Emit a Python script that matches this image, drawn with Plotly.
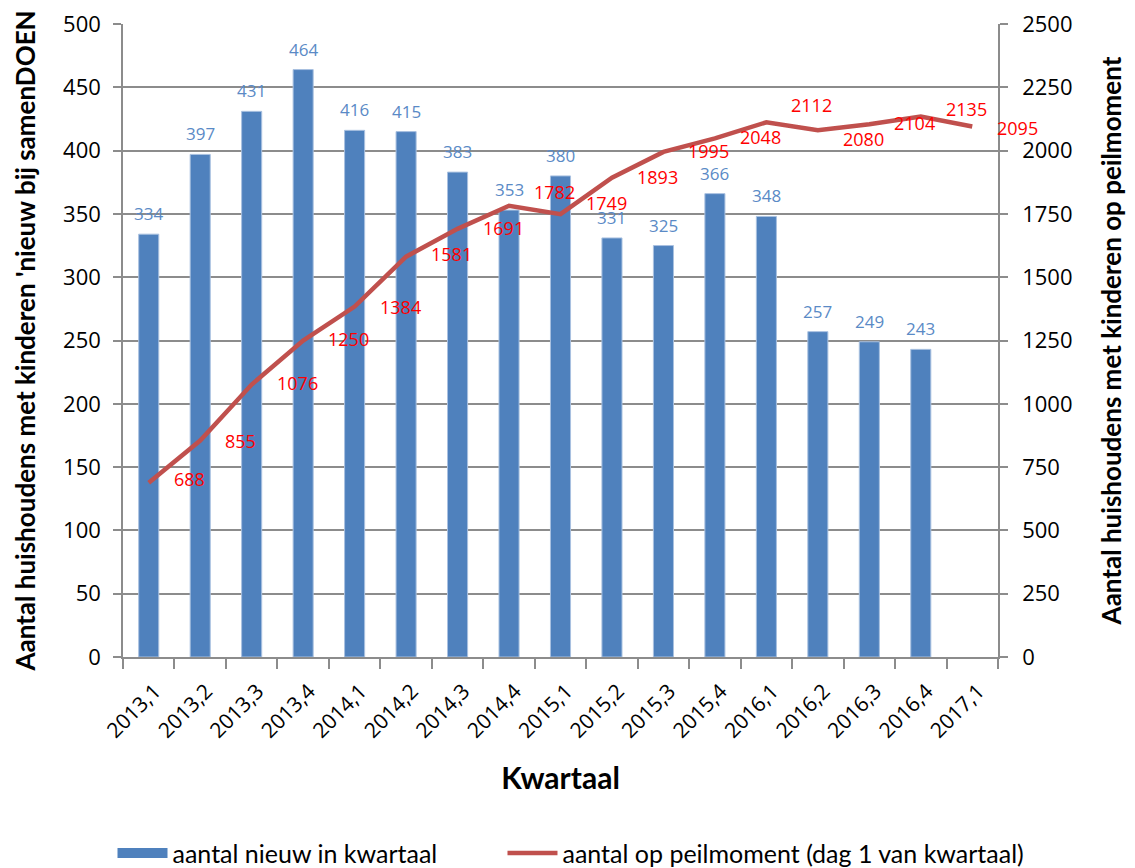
import plotly.graph_objects as go

categories = ["2013,1", "2013,2", "2013,3", "2013,4", "2014,1", "2014,2", "2014,3", "2014,4",
              "2015,1", "2015,2", "2015,3", "2015,4", "2016,1", "2016,2", "2016,3", "2016,4", "2017,1"]
nieuw = [334, 397, 431, 464, 416, 415, 383, 353, 380, 331, 325, 366, 348, 257, 249, 243]
peilmoment = [688, 855, 1076, 1250, 1384, 1581, 1691, 1782, 1749, 1893, 1995, 2048,
              2112, 2080, 2104, 2135, 2095]

left_ticks = list(range(0, 501, 50))
right_ticks = list(range(0, 2501, 250))

# label placement tweaks (pixels, positive = up) for the red line labels
line_label_dy = [5, 1, 3, 3, 1, 4, 2, 15, 12, 2, 2, 2, 18, -8, 2, 8, 0]

BLUE = "#4F81BD"
RED_LINE = "#C0504D"
GRID = "#8C8C8C"
TICKFONT = dict(family="Open Sans", size=22, color="black")

fig = go.Figure()
fig.add_trace(go.Bar(
    x=categories[:len(nieuw)], y=nieuw, name="aantal nieuw in kwartaal",
    marker=dict(color=BLUE, line=dict(color="#A9C1E0", width=1)),
    showlegend=False,
))
# legend proxy drawn as a wide blue block like the original legend key
fig.add_trace(go.Scatter(
    x=[None], y=[None], mode="lines", name="aantal nieuw in kwartaal",
    line=dict(color=BLUE, width=14), legend="legend",
))
fig.add_trace(go.Scatter(
    x=categories, y=peilmoment, name="aantal op peilmoment (dag 1 van kwartaal)",
    mode="lines", yaxis="y2", legend="legend2",
    line=dict(color=RED_LINE, width=4.5),
))
for c, v in zip(categories[:len(nieuw)], nieuw):
    fig.add_annotation(x=c, y=v, xref="x", yref="y", text=str(v), showarrow=False,
                       xanchor="center", yanchor="bottom", yshift=7,
                       font=dict(family="Open Sans", size=17, color="#5A8AC6"))
for c, v, dy in zip(categories, peilmoment, line_label_dy):
    fig.add_annotation(x=c, y=v, xref="x", yref="y2", text=str(v), showarrow=False,
                       xanchor="left", yanchor="middle", xshift=23, yshift=-1 + dy,
                       font=dict(family="Open Sans", size=18, color="#FF0000"))

legend_style = dict(orientation="h", yanchor="middle", xanchor="left", y=-0.31,
                    font=dict(family="Lato", size=25, color="black"),
                    itemwidth=50, bgcolor="rgba(0,0,0,0)")
fig.update_layout(
    width=1135, height=868,
    margin=dict(l=115, r=145, t=16, b=219, autoexpand=False),
    paper_bgcolor="white", plot_bgcolor="white",
    bargap=0.61,
    showlegend=True,
    legend=dict(x=-0.012, **legend_style),
    legend2=dict(x=0.4337, **legend_style),
    xaxis=dict(
        type="category", categoryorder="array", categoryarray=categories,
        range=[-0.5, len(categories) - 0.5], automargin=False,
        tickson="boundaries", ticks="outside", ticklen=10, tickcolor=GRID, tickwidth=1.5,
        tickangle=-45, tickfont=dict(family="Open Sans", size=21, color="black"),
        ticklabelstandoff=12, ticklabelshift=6, ticklabeloverflow="allow",
        showline=True, linecolor=GRID, linewidth=1.5, showgrid=False,
        title=dict(text="<b>Kwartaal</b>", font=dict(family="Lato", size=30, color="black"),
                   standoff=26),
    ),
    yaxis=dict(
        range=[0, 500], tickvals=left_ticks, ticks="outside", ticklen=8, tickcolor=GRID,
        tickwidth=1.5, tickfont=TICKFONT, automargin=False, ticklabelstandoff=8,
        ticklabeloverflow="allow",
        showgrid=True, gridcolor=GRID, gridwidth=1.5,
        showline=True, linecolor=GRID, linewidth=1.5, zeroline=False,
        title=dict(text="<b>Aantal huishoudens met kinderen 'nieuw bij samenDOEN</b>",
                   font=dict(family="Lato", size=26, color="black"), standoff=20),
    ),
    yaxis2=dict(
        range=[0, 2500], tickvals=right_ticks, overlaying="y", side="right",
        ticks="outside", ticklen=8, tickcolor=GRID, tickwidth=1.5, tickfont=TICKFONT,
        automargin=False, ticklabelstandoff=10, ticklabeloverflow="allow",
        showgrid=False, showline=True, linecolor=GRID, linewidth=1.5, zeroline=False,
        title=dict(text="<b>Aantal huishoudens met kinderen op peilmoment</b>",
                   font=dict(family="Lato", size=26, color="black"), standoff=31),
    ),
)

fig.write_html("out.html")
